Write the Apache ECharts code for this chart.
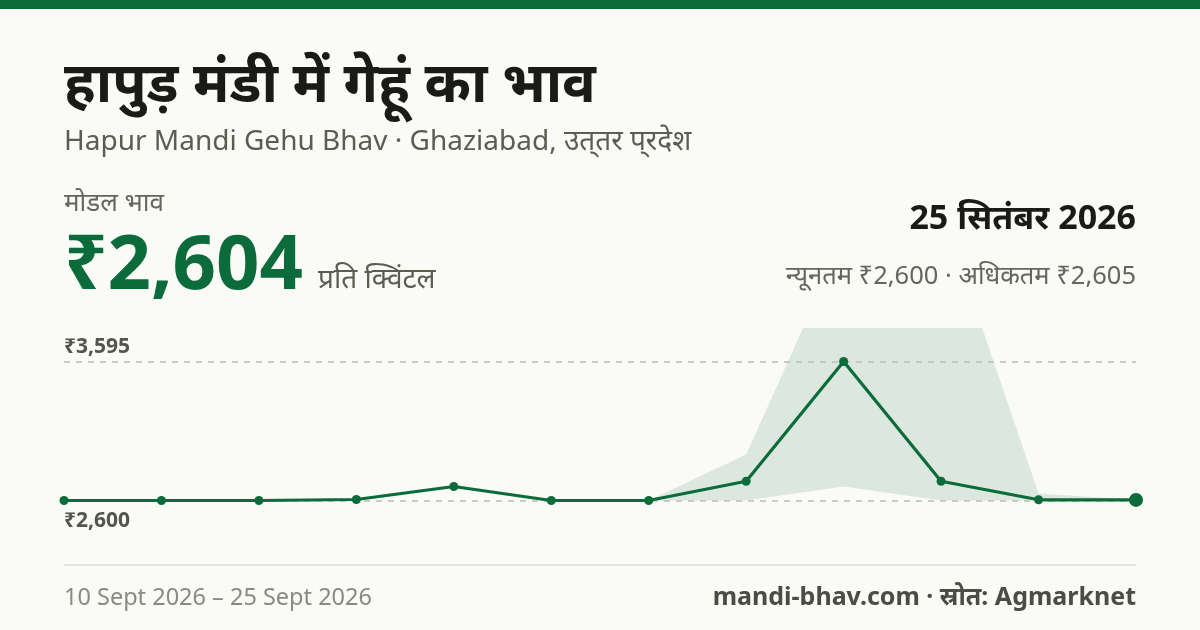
<!DOCTYPE html>
<html>
<head>
<meta charset="utf-8">
<script src="https://cdn.jsdelivr.net/npm/echarts@6/dist/echarts.min.js"></script>
<style>
  html, body { margin: 0; padding: 0; background: #fafaf6; }
  #main { width: 1200px; height: 630px; }
</style>
</head>
<body>
<div id="main"></div>
<script>
// 12 दिनों के भाव (₹ प्रति क्विंटल)
var dates = ['10 Sep', '11 Sep', '12 Sep', '13 Sep', '15 Sep', '16 Sep', '17 Sep', '19 Sep', '20 Sep', '22 Sep', '24 Sep', '25 Sep'];
var modalPrice = [2600, 2600, 2600, 2607, 2700, 2600, 2600, 2738, 3595, 2738, 2605, 2604];
var minPrice = [2600, 2600, 2600, 2607, 2700, 2600, 2600, 2600, 2700, 2600, 2600, 2600];
var maxPrice = [2600, 2600, 2600, 2607, 2700, 2600, 2600, 2930, 4480, 4700, 2650, 2605];

var green = '#0b6b3a';
var font = "'Noto Sans', 'Noto Sans Devanagari', sans-serif";

// बैंड = न्यूनतम + (अधिकतम - न्यूनतम)
var bandSpread = maxPrice.map(function (v, i) { return v - minPrice[i]; });

function rupee(v) {
    return '₹' + Math.round(v).toLocaleString('en-IN');
}

function txt(x, y, text, size, color, bold, align) {
    return {
        type: 'text',
        style: {
            x: x, y: y, text: text, fill: color,
            font: (bold ? 'bold ' : '') + size + 'px ' + font,
            align: align || 'left',
            verticalAlign: 'middle'
        }
    };
}

var chart = echarts.init(document.getElementById('main'));

var option = {
    backgroundColor: '#fafaf6',
    animation: false,
    grid: { left: 64, right: 64, top: 328, bottom: 96 },
    xAxis: {
        type: 'category',
        data: dates,
        boundaryGap: false,
        show: false
    },
    yAxis: {
        type: 'value',
        min: 2360,
        max: 3835,
        show: false,
        splitLine: { show: false }
    },
    graphic: [
        // ऊपर की हरी पट्टी
        { type: 'rect', shape: { x: 0, y: 0, width: 1200, height: 9 }, style: { fill: green } },
        txt(64, 86, 'हापुड़ मंडी में गेहूं का भाव', 56, '#1a1a16', true),
        txt(64, 142, 'Hapur Mandi Gehu Bhav · Ghaziabad, उत्\u200Cतर प्\u200Cरदेश', 28, '#5c5c52'),
        txt(64, 204, 'मोडल भाव', 26, '#66665c'),
        txt(64, 267, rupee(modalPrice[modalPrice.length - 1]), 76, green, true),
        txt(318, 280, 'प्रति क्विंटल', 28, '#5c5c52'),
        txt(1136, 219, '25 सितंबर 2026', 34, '#1a1a16', true, 'right'),
        txt(1136, 277, 'न्यूनतम ' + rupee(minPrice[minPrice.length - 1]) + ' · अधिकतम ' + rupee(maxPrice[maxPrice.length - 1]), 25.5, '#66665c', false, 'right'),
        // नीचे की रेखा
        { type: 'rect', shape: { x: 64, y: 564, width: 1072, height: 2 }, style: { fill: '#e4e4dc' } },
        txt(64, 598, '10 Sept 2026 – 25 Sept 2026', 23.5, '#8a8a80'),
        txt(1136, 598, 'mandi-bhav.com · स्रोत: Agmarknet', 25, '#4c4c44', true, 'right')
    ],
    series: [
        {
            name: 'min',
            type: 'line',
            data: minPrice,
            stack: 'band',
            symbol: 'none',
            lineStyle: { width: 0, opacity: 0 },
            silent: true
        },
        {
            name: 'spread',
            type: 'line',
            data: bandSpread,
            stack: 'band',
            symbol: 'none',
            lineStyle: { width: 0, opacity: 0 },
            areaStyle: { color: 'rgba(11,107,58,0.12)', opacity: 1 },
            silent: true
        },
        {
            name: 'modal',
            type: 'line',
            data: modalPrice,
            symbol: 'circle',
            symbolSize: function (val, params) {
                return params.dataIndex === modalPrice.length - 1 ? 14 : 9;
            },
            itemStyle: { color: green },
            lineStyle: { color: green, width: 3.2 },
            z: 5,
            markLine: {
                silent: true,
                symbol: 'none',
                lineStyle: { color: '#bdbdb5', type: [6, 6], width: 1.5 },
                data: [
                    { type: 'max', label: { position: 'insideStartTop', distance: [0, 4] } },
                    { type: 'min', label: { position: 'insideStartBottom', distance: [0, 10] } }
                ],
                label: {
                    formatter: function (p) { return rupee(p.value); },
                    color: '#55554c',
                    fontFamily: font,
                    fontWeight: 'bold',
                    fontSize: 21
                }
            }
        }
    ]
};

chart.setOption(option);
window.addEventListener('resize', function () {
    chart.resize();
});
</script>
</body>
</html>
